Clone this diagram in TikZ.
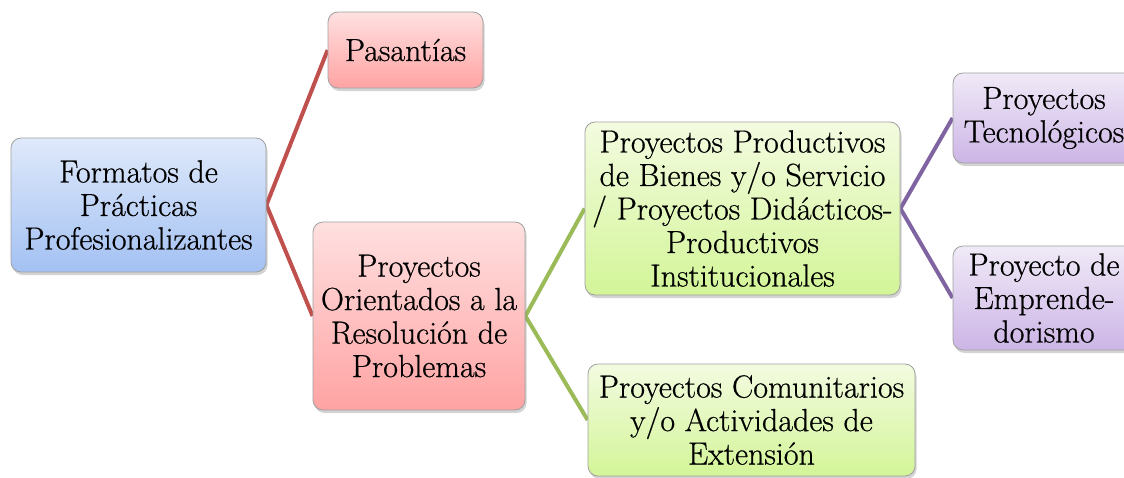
\documentclass[tikz,border=0pt]{standalone}
\usepackage{fontspec}
\setmainfont{Latin Modern Roman}[FakeBold=0.6]
\usetikzlibrary{shadows,backgrounds}
\definecolor{bluetop}{HTML}{DFE9FA}
\definecolor{bluebot}{HTML}{A3C1F3}
\definecolor{redtop}{HTML}{FFE0E0}
\definecolor{redbot}{HTML}{FFA3A3}
\definecolor{greentop}{HTML}{F3FBE0}
\definecolor{greenbot}{HTML}{D3F598}
\definecolor{purpletop}{HTML}{F0EAF7}
\definecolor{purplebot}{HTML}{CCB5E6}
\definecolor{redline}{HTML}{C0504D}
\definecolor{greenline}{HTML}{9BBB59}
\definecolor{purpleline}{HTML}{8064A2}
\definecolor{boxborder}{HTML}{A0A0A0}
\tikzset{
  box/.style={draw=boxborder, line width=0.8pt, rounded corners=10pt, align=center,
    inner sep=0pt, font=\fontsize{32}{33.5}\selectfont,
    drop shadow={opacity=0.35, shadow xshift=1.5pt, shadow yshift=-3pt}},
  bluebox/.style={box, top color=bluetop, bottom color=bluebot},
  redbox/.style={box, top color=redtop, bottom color=redbot},
  greenbox/.style={box, top color=greentop, bottom color=greenbot},
  purplebox/.style={box, top color=purpletop, bottom color=purplebot},
  conn/.style={line width=4pt}
}
\begin{document}
\begin{tikzpicture}[x=1pt,y=-1pt]
\useasboundingbox (0,0) rectangle (1124,477);
\node[bluebox, minimum width=255pt, minimum height=134pt] (root) at (138.5,205) {Formatos de\\Prácticas\\Profesionalizantes};
\node[redbox, minimum width=155pt, minimum height=76pt] (pas) at (405.5,50) {Pasantías};
\node[redbox, minimum width=212pt, minimum height=188pt] (por) at (419,316) {Proyectos\\Orientados a la\\Resolución de\\Problemas};
\node[greenbox, minimum width=315pt, minimum height=173pt] (ppbs) at (742.5,208.5) {Proyectos Productivos\\de Bienes y/o Servicio\\/ Proyectos Didácticos-\\Productivos\\Institucionales};
\node[greenbox, minimum width=327pt, minimum height=112pt] (pcom) at (751.5,420) {Proyectos Comunitarios\\y/o Actividades de\\Extensión};
\node[purplebox, minimum width=182pt, minimum height=90pt] (tec) at (1044,118) {Proyectos\\Tecnológicos};
\node[purplebox, minimum width=182pt, minimum height=104pt] (emp) at (1044,298) {Proyecto de\\Emprende-\\dorismo};
\begin{scope}[on background layer]
\draw[conn, redline] (pas.west) -- (root.east) -- (por.west);
\draw[conn, greenline] (ppbs.west) -- (por.east) -- (pcom.west);
\draw[conn, purpleline] (tec.west) -- (ppbs.east) -- (emp.west);
\end{scope}
\end{tikzpicture}
\end{document}
